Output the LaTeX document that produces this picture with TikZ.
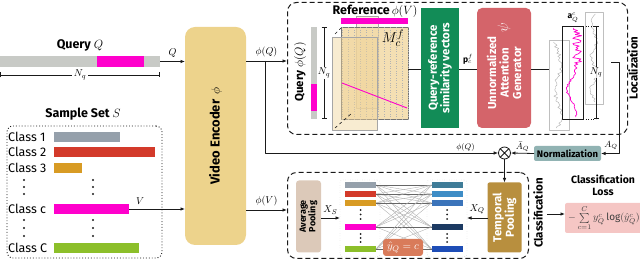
\documentclass[tikz,border=0pt]{standalone}
\usepackage{fontspec}
\setmainfont{Fira Sans}
\usetikzlibrary{arrows.meta,calc}
\newcommand{\Conn}{0.8pt}
\newcommand{\Dash}{1pt}
\newcommand{\LblFont}{\bfseries\fontsize{11.5}{12.5}\selectfont}
\newcommand{\HeadFont}{\bfseries\fontsize{12.5}{13.5}\selectfont}
\newcommand{\SmallFont}{\fontsize{8}{9}\selectfont}
\definecolor{qgray}{HTML}{C8CAC6}
\definecolor{qmag}{HTML}{FF00CC}
\definecolor{encfill}{HTML}{EDD38C}
\definecolor{clsone}{HTML}{95A0AB}
\definecolor{clstwo}{HTML}{D33A2A}
\definecolor{clsthree}{HTML}{D89B24}
\definecolor{clsbig}{HTML}{8CBF2A}
\definecolor{matfill}{HTML}{F0D49A}
\definecolor{simgreen}{HTML}{128C57}
\definecolor{attred}{HTML}{D4646A}
\definecolor{normteal}{HTML}{91B3B3}
\definecolor{avgfill}{HTML}{DCC9B9}
\definecolor{tempfill}{HTML}{B88F3E}
\definecolor{yhatfill}{HTML}{D97B5A}
\definecolor{lossfill}{HTML}{F5C6C4}
\definecolor{rbone}{HTML}{3F7C98}
\definecolor{rbtwo}{HTML}{3E8DC6}
\definecolor{rbthree}{HTML}{3B74BA}
\definecolor{rbfour}{HTML}{1C3A62}
\definecolor{rbfive}{HTML}{1E4DB6}
\definecolor{ink}{HTML}{1A1A1A}

\tikzset{
  arr/.style={-{Latex[length=4.5pt,width=3.6pt]}, line width=\Conn, draw=ink},
  wire/.style={line width=0.6pt, draw=ink},
  dimline/.style={{Bar[width=5pt]}-{Bar[width=5pt]}, line width=0.6pt, draw=ink},
  panel/.style={draw=ink, line width=\Dash, dash pattern=on 5pt off 3pt, rounded corners=9pt, inner sep=0pt, anchor=north west},
  blk/.style={inner sep=0pt, outer sep=0pt},
  vtext/.style={rotate=90, font=\LblFont, align=center},
  smallbar/.style={blk, minimum width=31pt, minimum height=6pt},
  plotbox/.style={draw=black!25, line width=0.6pt},
  noisy/.style={black!30, line width=0.45pt},
}

\begin{document}
\begin{tikzpicture}[x=1pt, y=-1pt, line join=round]
  \useasboundingbox (0,0) rectangle (640,261);
  \pgfmathsetseed{11}

  % ---- query video -------------------------------------------------------
  \node[font=\HeadFont] (qlbl) at (80,45) {Query $Q$};
  \node[blk, fill=qgray, minimum width=160pt, minimum height=11pt, anchor=north west] (qbar) at (0,56) {};
  \fill[qmag] (97,56) rectangle (144,67);
  \draw[dimline] ([yshift=-8pt]qbar.south west) -- ([yshift=-8pt]qbar.south east)
    node[midway, fill=white, inner sep=1.5pt] (qnq) {$N_q$};

  % ---- sample set --------------------------------------------------------
  \node[font=\HeadFont] (sslbl) at (83,114) {Sample Set $S$};
  \node[draw=ink, dotted, line width=0.9pt, rounded corners=6pt, blk, anchor=north west,
        minimum width=155pt, minimum height=132pt] (sset) at (7,126) {};
  \foreach \n/\t/\yy/\col/\w in {1/Class 1/137/clsone/66, 2/Class 2/152/clstwo/101,
                               3/Class 3/168/clsthree/28, c/Class c/209/qmag/75,
                               C/Class C/248/clsbig/85} {
    \node[anchor=west, inner sep=0pt, font=\fontsize{12.5}{13}\selectfont] (cl\n) at (8,\yy) {\t};
    \node[blk, fill=\col, minimum width=\w pt, minimum height=10pt, anchor=west] (cb\n) at (54,\yy) {};
  }
  % Dots, two columns, two gaps.
  \foreach \xx in {24,93} {
    \foreach \yy in {180,187,194,220,228,236} {
      \fill[ink] (\xx,\yy) circle (1.2);
    }
  }

  % ---- video encoder -----------------------------------------------------
  \node[blk, fill=encfill, rounded corners=10pt, minimum width=61pt, minimum height=218pt] (enc) at (215.5,136) {};
  \node[vtext, font=\bfseries\fontsize{13}{14}\selectfont] (enclbl) at (enc.center) {Video Encoder \,$\phi$};

  \coordinate (qy) at (0,61);
  \coordinate (vy) at (0,210);
  \coordinate (br) at (265,61);
  \draw[arr] (qbar.east) -- (enc.west |- qbar.east) node[midway, above] {$Q$};
  \draw[arr] (cbc.east) -- (enc.west |- cbc.east) node[pos=0.2, above=1pt] {$V$};

  % ---- localization ------------------------------------------------------
  \node[panel, minimum width=340pt, minimum height=132pt] (loc) at (287,2) {};
  \node[vtext, inner sep=0pt] (loclbl) at (633,68) {Localization};
  \draw[arr] (enc.east |- qy) -- (loc.west |- qy) node[midway, above] {$\phi(Q)$};

  \node[vtext] (qphilbl) at (300,72) {Query $\phi(Q)$};
  \node[blk, fill=qgray, minimum width=6pt, minimum height=92pt, anchor=north west] (qvbar) at (311,27) {};
  \fill[qmag] (311,84) rectangle (317,111);
  \draw[dimline] ([xshift=7pt]qvbar.north east) -- ([xshift=7pt]qvbar.south east)
    node[midway, fill=white, inner sep=1pt] (qvnq) {$N_q$};

  \node[font=\HeadFont] (reflbl) at (375,11) {Reference\,$\phi(V)$};

  % Stack of similarity matrices, one per feature.
  \fill[matfill, opacity=0.35] (356,16) rectangle (378,108);
  \draw[black!35, line width=0.5pt] (356,16) rectangle (378,108);
  \node[blk, fill=matfill, fill opacity=0.75, draw=black!55, line width=0.7pt,
        minimum width=67pt, minimum height=92pt, anchor=north west] (mat) at (341,27) {};
  \draw[dotted, black!30, step=6] (341,27) grid (408,119);
  \fill[matfill, opacity=0.45] (332,37) rectangle (377,130);
  \draw[black!35, line width=0.5pt] (332,37) rectangle (377,130);
  \node[blk, fill=qmag, minimum width=67pt, minimum height=6pt, anchor=north west] (rbar) at (341,18) {};
  \draw[dashed, ink, line width=0.6pt] (335,34) -- (341,28);
  \draw[dashed, ink, line width=0.6pt] (335,128) -- (352,113);
  \draw[qmag, line width=0.9pt] (342,83) -- (407,108);
  \node[font=\fontsize{15}{16}\selectfont] (mlbl) at (393,38) {$M_c^f$};

  \coordinate (ly) at (0,69);
  \node[blk, fill=simgreen, minimum width=38pt, minimum height=120pt] (sim) at (440,68) {};
  \node[vtext, text=white] (simlbl) at (sim.center) {Query-reference\\similarity vectors};
  \node[blk, fill=attred, rounded corners=5pt, minimum width=54pt, minimum height=120pt] (att) at (504,68) {};
  \node[vtext, text=white] (attlbl) at ([yshift=-5pt]att.center) {Unnormalized\\Attention\\Generator};
  \node[rotate=90, text=white, font=\fontsize{14}{15}\selectfont] (psi) at (504,28) {$\psi$};

  \draw[wire] (mat.east |- ly) -- (sim.west |- ly);
  \draw[wire] (sim.east |- ly) -- (att.west |- ly) node[midway, above=1pt, font=\fontsize{8.5}{9}\selectfont] {$\mathbf{p}_c^f$};

  % Attention vectors, one per feature; the front one is c.
  \node[blk, plotbox, minimum width=18pt, minimum height=92pt, anchor=north west] (plotR) at (585,12) {};
  \node[blk, plotbox, minimum width=20pt, minimum height=90pt, anchor=north west] (plotL) at (549,40) {};
  \draw[noisy] plot[variable=\t, domain=14:102, samples=55] ({594 + 3*sin(\t*11) + 2*rand}, \t);
  \draw[noisy] plot[variable=\t, domain=42:128, samples=55] ({558 + 3*sin(\t*7) + 2*rand}, \t);
  \node[blk, draw=ink, line width=0.8pt, minimum width=21pt, minimum height=93pt, anchor=north west] (plotF) at (562,26) {};
  \begin{scope}
    \clip (plotF.north west) rectangle (plotF.south east);
    \draw[qmag, line width=0.7pt] plot[variable=\t, domain=28:117, samples=70]
      ({577 - 10*exp(-((\t-90)/14)^2) + (1.2 + 3.5*(\t<66))*rand}, \t);
  \end{scope}
  \node[font=\fontsize{8.5}{9}\selectfont] (albl) at (573,18) {$\mathbf{a}_Q^c$};
  \draw[dotted, ink, line width=0.6pt] (plotF.north east) -- (596,26);
  \draw[dotted, ink, line width=0.6pt] (plotF.south east) -- (596,119);
  \coordinate (nqtop) at (596,26);
  \coordinate (nqbot) at (596,119);
  \draw[dimline] (nqtop) -- (nqbot) node[midway, fill=white, fill opacity=0.8, text opacity=1, inner sep=1pt] (anq) {$N_q$};
  \draw[wire] (att.east |- ly) -- (plotL.west |- ly);

  % ---- normalization and re-weighting ------------------------------------
  \node[circle, draw=ink, line width=0.8pt, minimum size=12pt, inner sep=0pt] (ot) at (504.5,153) {};
  \draw[ink, line width=0.8pt] (ot.45) -- (ot.225) (ot.135) -- (ot.315);
  \node[blk, fill=normteal, rounded corners=2pt, minimum width=67pt, minimum height=15pt,
        font=\bfseries\fontsize{9.5}{10}\selectfont] (norm) at (567.5,153.5) {Normalization};
  \coordinate (aqout) at (611,62);
  \coordinate (aqturn) at (619,62);
  \draw[arr] (aqout) -- (aqturn) |- (norm.east);
  \node[font=\fontsize{9}{10}\selectfont, inner sep=1pt] (aqlbl) at (611,146) {$A_Q$};
  \draw[arr] (norm.west) -- (ot.east) node[midway, above, inner sep=1pt, font=\fontsize{9}{10}\selectfont] {$\bar{A}_Q$};
  \draw[arr] (br) |- (ot.west) node[pos=0.93, above, inner sep=1.5pt, font=\SmallFont] {$\phi(Q)$};

  % ---- classification ----------------------------------------------------
  \node[panel, minimum width=241pt, minimum height=86pt] (cls) at (287,172) {};
  \node[vtext] (clslbl) at (538,213) {Classification};
  \draw[arr] (enc.east |- vy) -- (cls.west |- vy) node[midway, above] {$\phi(V)$};

  \node[blk, fill=avgfill, rounded corners=3pt, minimum width=25pt, minimum height=72pt] (avg) at (308.5,216.5) {};
  \node[rotate=90, align=center, font=\bfseries\fontsize{9}{9.5}\selectfont] (avglbl) at (avg.center) {Average\\Pooling};
  \node[blk, fill=tempfill, rounded corners=2pt, minimum width=34pt, minimum height=70pt] (temp) at (504.5,217.5) {};
  \node[vtext, text=white] (templbl) at (temp.center) {Temporal\\Pooling};

  \node[blk, draw=black!35, dotted, rounded corners=3pt, minimum width=40pt, minimum height=77pt, anchor=north west] (lpan) at (340,180) {};
  \node[blk, draw=black!35, dotted, rounded corners=3pt, minimum width=40pt, minimum height=77pt, anchor=north west] (rpan) at (427,180) {};
  \foreach \n/\yy/\col/\rcol in {1/185/clsone/rbone, 2/194/clstwo/rbtwo, 3/203/clsthree/rbthree,
                                4/227/qmag/rbfour, 5/249/clsbig/rbfive} {
    \node[smallbar, fill=\col] (lb\n) at (360.5,\yy) {};
    \node[smallbar, fill=\rcol] (rb\n) at (447,\yy) {};
  }
  % Every support class against every query feature.
  \foreach \i in {1,...,5} {
    \foreach \j in {1,...,5} {
      \draw[black!30, line width=0.4pt] (lb\i.east) -- (rb\j.west);
    }
    \draw[black!60, line width=0.8pt] (lb\i.east) -- (rb\i.west);
  }
  \foreach \xx in {360.5,447} {
    \foreach \yy in {210,214.5,219,234,238,242} {
      \fill[ink] (\xx,\yy) circle (1);
    }
  }
  \node[blk, fill=yhatfill, rounded corners=3pt, minimum width=40pt, minimum height=17pt, text=white,
        font=\fontsize{11}{12}\selectfont] (yhat) at (403,247.5) {$\hat{y}_Q = c$};

  \coordinate (xy) at (0,218);
  \draw[arr] (avg.east |- xy) -- (lpan.west |- xy) node[midway, above] {$X_S$};
  \draw[arr] (temp.west |- xy) -- (rpan.east |- xy) node[midway, above] {$X_Q$};
  \draw[arr] (ot.south) -- (temp.north);

  % ---- loss ----------------------------------------------------------------
  \node[align=center, inner sep=1pt, font=\bfseries\fontsize{10.5}{12}\selectfont] (losslbl) at (603,185) {Classification\\Loss};
  \node[blk, fill=lossfill, rounded corners=2pt, minimum width=78pt, minimum height=30pt, anchor=west,
        text=ink!85, font=\fontsize{10}{11}\selectfont] (loss) at (565,218) {$-\sum\limits_{c=1}^{C} y_Q^c \log(\hat{y}_Q^c)$};
  \coordinate (clsout) at (547,214);
  \draw[arr] (clsout) -- (loss.west |- clsout);

\end{tikzpicture}
\end{document}
